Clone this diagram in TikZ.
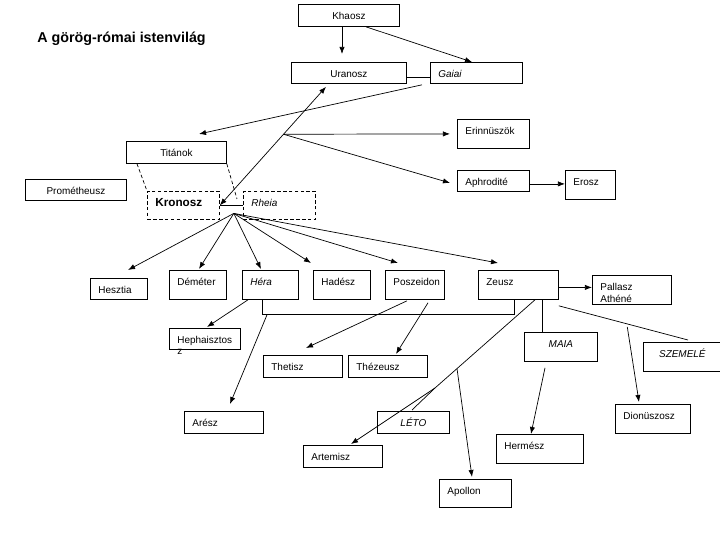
\documentclass[tikz,border=0pt]{standalone}
\usepackage{fontspec}
\setmainfont{Liberation Sans}
\usetikzlibrary{arrows.meta}
\newlength{\pix}
\setlength{\pix}{0.03cm}
\hyphenpenalty=10000

\begin{document}
\begin{tikzpicture}[x = 0.03cm, y = -0.03cm, line width = 0.6pt,
	doboz/.style = {draw, line width = 0.7pt, anchor = north west, align = left, inner ysep = 0pt, inner xsep = 8\pix, text height = 15\pix, text depth = 7\pix, font = \fontsize{8.5}{9.5}\selectfont},
	magas/.style = {text depth = 14\pix},
	kozep/.style = {align = center},
	szagg/.style = {dash pattern = on 3pt off 2pt},
	nyil/.style = {-{Latex[length = 6pt, width = 4.5pt]}},
	ketnyil/.style = {{Latex[length = 6pt, width = 4.5pt]}-{Latex[length = 6pt, width = 4.5pt]}}]%istenfa
	\useasboundingbox (0,0) rectangle (720,540);
	\node[anchor = west, inner sep = 0pt, font = \fontsize{12.2}{14}\selectfont\bfseries] (CIM) at (37,39) {A görög-római istenvilág};
	\node[doboz, kozep, text width = 85\pix] (KHAOSZ) at (298,4) {Khaosz};
	\node[doboz, kozep, text width = 99\pix, text depth = 6\pix] (URANOSZ) at (291,62) {Uranosz};
	\node[doboz, text width = 76\pix, text depth = 6\pix] (GAIAI) at (430,62) {\textit{Gaiai}};
	\node[doboz, kozep, text width = 84\pix] (TITANOK) at (126,141) {Titánok};
	\node[doboz, kozep, text width = 85\pix, text depth = 6\pix] (PROMETHEUSZ) at (25,179) {Prométheusz};
	\node[doboz, szagg, text width = 56\pix, text depth = 13\pix, font = \fontsize{10}{12}\selectfont\bfseries] (KRONOSZ) at (147,191) {Kronosz};
	\node[doboz, szagg, text width = 56\pix, text depth = 13\pix] (RHEIA) at (243,191) {\textit{Rheia}};
	\node[doboz, magas, text width = 56\pix] (ERINNUSZOK) at (457,119) {Erinnüszök};
	\node[doboz, text width = 56\pix, text depth = 6\pix] (APHRODITE) at (457,170) {Aphrodité};
	\node[doboz, magas, text width = 34\pix] (EROSZ) at (565,170) {Erosz};
	\node[doboz, text width = 41\pix, text depth = 6\pix] (HESZTIA) at (90,278) {Hesztia};
	\node[doboz, magas, text width = 41\pix] (DEMETER) at (169,270) {Déméter};
	\node[doboz, magas, text width = 40\pix] (HERA) at (242,270) {\textit{Héra}};
	\node[doboz, magas, text width = 41\pix] (HADESZ) at (313,270) {Hadész};
	\node[doboz, magas, text width = 43\pix] (POSZEIDON) at (385,270) {Poszeidon};
	\node[doboz, magas, text width = 64\pix] (ZEUSZ) at (478,270) {Zeusz};
	\node[doboz, magas, text width = 63\pix, font = \fontsize{8.5}{10}\selectfont] (PALLASZ) at (592,275) {Pallasz\\Athéné};
	\node[doboz, text width = 55\pix, text depth = 6\pix] (HEPHAISZTOSZ) at (169,328) {Hephaisztos\\z};
	\node[doboz, text width = 63\pix] (THETISZ) at (263,355) {Thetisz};
	\node[doboz, text width = 63\pix] (THEZEUSZ) at (348,355) {Thézeusz};
	\node[doboz, text width = 63\pix] (ARESZ) at (184,411) {Arész};
	\node[doboz, kozep, text width = 56\pix] (LETO) at (377,411) {\textit{LÉTO}};
	\node[doboz, text width = 63\pix] (ARTEMISZ) at (303,445) {Artemisz};
	\node[doboz, text width = 56\pix, text depth = 13\pix] (APOLLON) at (439,479) {Apollon};
	\node[doboz, kozep, magas, text width = 57\pix] (MAIA) at (524,332) {\textit{MAIA}};
	\node[doboz, magas, text width = 71\pix] (HERMESZ) at (496,434) {Hermész};
	\node[doboz, kozep, magas, text width = 62\pix] (SZEMELE) at (643,342) {\textit{SZEMELÉ}};
	\node[doboz, magas, text width = 59\pix] (DIONUSZOSZ) at (615,404) {Dionüszosz};
	% Khaosz, Uranosz, Gaiai
	\draw[nyil] ([shift = {(44,0)}]KHAOSZ.south west) -- ([shift = {(51,-8)}]URANOSZ.north west);
	\draw[nyil] ([shift = {(68,0)}]KHAOSZ.south west) -- ([shift = {(42,0)}]GAIAI.north west);
	\draw ([shift = {(0,4)}]URANOSZ.east) -- ([shift = {(0,4)}]GAIAI.west);
	\draw[nyil] ([shift = {(-8,1)}]GAIAI.south west) -- ([shift = {(73,-7)}]TITANOK.north west);
	\draw[szagg] ([shift = {(11,0)}]TITANOK.south west) -- (KRONOSZ.north west);
	\draw[szagg] (TITANOK.south east) -- ([shift = {(-6,8)}]RHEIA.north west);
	\draw[ketnyil] (KRONOSZ.east) -- coordinate[pos = 0.6] (VAGAS) ([shift = {(35,3)}]URANOSZ.south west);
	\draw[nyil] (VAGAS) -- ([shift = {(-7,0)}]ERINNUSZOK.west);
	\draw[nyil] (VAGAS) -- ([shift = {(-7,2)}]APHRODITE.west);
	\draw[nyil] ([shift = {(0,3)}]APHRODITE.east) -- ([shift = {(0,-1)}]EROSZ.west);
	% Kronosz es Rheia gyerekei
	\draw (KRONOSZ.east) -- (RHEIA.west);
	\coordinate (GYEREK) at ([shift = {(14,8)}]KRONOSZ.east);
	\draw[nyil] (GYEREK) -- ([shift = {(38,-8)}]HESZTIA.north west);
	\draw[nyil] (GYEREK) -- ([shift = {(30,-1)}]DEMETER.north west);
	\draw[nyil] (GYEREK) -- ([shift = {(19,-1)}]HERA.north west);
	\draw[nyil] (GYEREK) -- ([shift = {(-2,-7)}]HADESZ.north west);
	\draw[nyil] (GYEREK) -- ([shift = {(13,-7)}]POSZEIDON.north west);
	\draw[nyil] (GYEREK) -- ([shift = {(20,-7)}]ZEUSZ.north west);
	% Hera, Poszeidon, Zeusz
	\draw ([shift = {(20,0)}]HERA.south west) -- ++(0,15) -| ([shift = {(36,0)}]ZEUSZ.south west);
	\coordinate (HZ) at ([shift = {(25,15)}]HERA.south west);
	\draw[nyil] ([shift = {(6,0)}]HERA.south west) -- ([shift = {(38,-1)}]HEPHAISZTOSZ.north west);
	\draw[nyil] (HZ) -- ([shift = {(46,-7)}]ARESZ.north west);
	\draw[nyil] ([shift = {(22,1)}]POSZEIDON.south west) -- ([shift = {(43,-7)}]THETISZ.north west);
	\draw[nyil] ([shift = {(43,3)}]POSZEIDON.south west) -- ([shift = {(48,-1)}]THEZEUSZ.north west);
	\draw[nyil] ([shift = {(0,2.5)}]ZEUSZ.east) -- ([shift = {(0,-2.5)}]PALLASZ.west);
	\coordinate (ZL) at ([shift = {(58,-23)}]LETO.north west);
	\draw ([shift = {(57,0)}]ZEUSZ.south west) -- coordinate[pos = 0.78] (ZA) (ZL) -- ([shift = {(35,-1)}]LETO.north west);
	\draw[nyil] (ZL) -- ([shift = {(48,-1)}]ARTEMISZ.north west);
	\draw[nyil] (ZA) -- ([shift = {(33,-2)}]APOLLON.north west);
	\draw ([shift = {(64,0)}]ZEUSZ.south west) -- ([shift = {(18,0)}]MAIA.north west);
	\draw[nyil] ([shift = {(21,6)}]MAIA.south west) -- ([shift = {(35,0)}]HERMESZ.north west);
	\draw ([shift = {(0,6)}]ZEUSZ.south east) -- coordinate[pos = 0.53] (ZS) ([shift = {(45,-2)}]SZEMELE.north west);
	\draw[nyil] ([shift = {(0,3)}]ZS) -- ([shift = {(24,-2)}]DIONUSZOSZ.north west);
\end{tikzpicture}
\end{document}
